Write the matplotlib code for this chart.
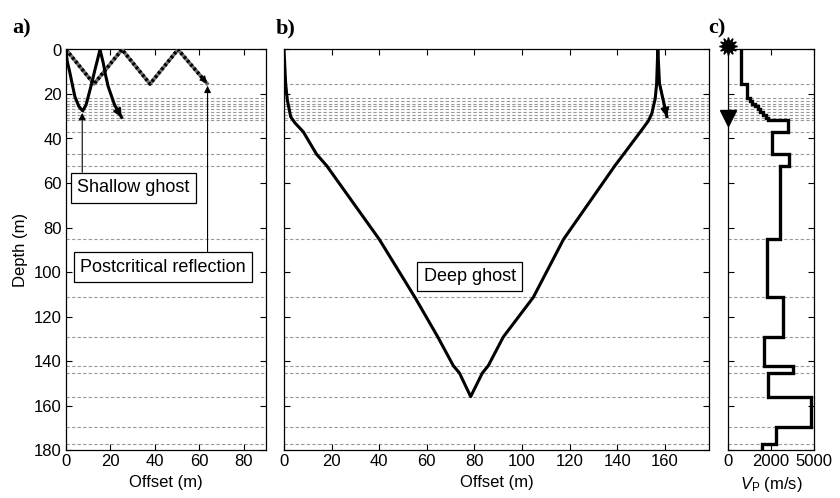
import numpy as np
import matplotlib.pyplot as plt

plt.rcParams['font.family'] = ['Liberation Sans', 'DejaVu Sans']
plt.rcParams['mathtext.fontset'] = 'custom'
plt.rcParams['mathtext.rm'] = 'Liberation Sans'
plt.rcParams['mathtext.it'] = 'Liberation Sans:italic'

# layer boundaries (m)
interfaces = [15.5, 22.0, 23.1, 24.4, 25.5, 26.7, 28.0, 29.3, 30.7, 31.8, 37.1,
              47.1, 52.2, 85.3, 111.3, 129.3, 142.4, 145.3, 156.0, 169.6, 177.5]

# Vp per layer (m/s), layer edges = 0, interfaces, 180
vp = [740, 1090, 1250, 1400, 1560, 1720, 1870, 2030, 2190, 2340, 3500,
      2580, 3550, 3020, 2290, 3180, 2110, 3800, 2300, 4810, 2790, 1990]
vp_ticks = [0, 2500, 5000]
vp_ticklabels = ['0', '2000', '5000']

# a) shallow ghost ray (offset, depth)
ghost_x = [0, 0.5, 1.8, 2.9, 4.0, 5.8, 7.5, 9.0, 10.0, 11.5, 13.0, 14.2, 15.3,
           16.8, 17.8, 19.0, 20.5, 21.9, 25.0]
ghost_z = [0, 5.0, 10.7, 16.0, 21.2, 25.6, 27.6, 25.0, 21.2, 15.5, 9.2, 4.5, 0,
           6.2, 11.5, 16.7, 21.0, 25.0, 30.5]

# a) postcritical reflection (zigzag)
post_x = [0, 12.6, 25.2, 37.8, 50.4, 63.5]
post_z = [0, 15.5, 0, 15.5, 0, 15.3]

# b) deep ghost ray
deep_x = [0, 0.7, 1.4, 2.8, 4.6, 8.1, 13.7, 17.9, 40.0, 55.0, 64.6, 71.1, 73.7, 78.4,
          83.3, 85.8, 92.1, 104.7, 117.4, 139.0, 142.6, 149.6, 153.1, 154.5, 155.9,
          156.5, 157.0, 157.7, 160.8]
deep_z = [0, 15.5, 22.7, 30.2, 33.0, 37.0, 47.1, 52.2, 85.3, 111.4, 129.2, 142.1, 145.4, 156.0,
          145.4, 142.1, 129.2, 111.4, 85.3, 52.2, 47.1, 37.1, 32.0, 28.7, 22.1,
          15.5, 0, 15.2, 30.2]

fig = plt.figure(figsize=(8.4, 4.98), dpi=100)
ax1 = fig.add_axes([66/840, 1-450/498, 200/840, 400.5/498])
ax2 = fig.add_axes([284/840, 1-450/498, 425/840, 400.5/498])
ax3 = fig.add_axes([728/840, 1-450/498, 86/840, 400.5/498])

for ax in (ax1, ax2, ax3):
    ax.set_ylim(180, 0)
    ax.set_yticks(np.arange(0, 181, 20))
    ax.tick_params(direction='in', top=True, right=True, length=4, width=0.8,
                   labelsize=12, pad=3)
    for s in ax.spines.values():
        s.set_linewidth(0.9)
    for z in interfaces:
        ax.axhline(z, color='#999999', lw=0.8, dashes=(3, 2), zorder=1)

# a)
ax1.set_xlim(0, 90)
ax1.set_xticks(np.arange(0, 81, 20))
ax1.set_xlabel('Offset (m)', fontsize=12)
ax1.set_ylabel('Depth (m)', fontsize=12)
ax1.plot(post_x, post_z, color='#707070', lw=2.6, zorder=3)
ax1.plot(post_x, post_z, color='k', lw=2.6, ls=(0, (0.7, 0.7)), zorder=3)
ax1.annotate('', xy=(post_x[-1], post_z[-1]), xytext=(post_x[-2], post_z[-2]),
             arrowprops=dict(arrowstyle='-|>', color='k', lw=0, mutation_scale=14,
                             shrinkA=0, shrinkB=0), zorder=3)
ax1.plot(ghost_x, ghost_z, color='k', lw=2.2, zorder=4)
ax1.annotate('', xy=(ghost_x[-1], ghost_z[-1]), xytext=(ghost_x[-2], ghost_z[-2]),
             arrowprops=dict(arrowstyle='-|>', color='k', lw=1.5, mutation_scale=12,
                             shrinkA=0, shrinkB=0), zorder=4)

box = dict(boxstyle='square,pad=0.35', fc='white', ec='k', lw=0.9)
ax1.annotate('', xy=(7.3, 28.5), xytext=(7.3, 55.2),
             arrowprops=dict(arrowstyle='-|>', color='k', lw=0.8, mutation_scale=10,
                             shrinkA=0, shrinkB=0))
ax1.text(30.3, 62.2, 'Shallow ghost', fontsize=13, ha='center', va='center', bbox=box, zorder=5)
ax1.annotate('', xy=(63.7, 16.3), xytext=(63.7, 91.0),
             arrowprops=dict(arrowstyle='-|>', color='k', lw=0.8, mutation_scale=10,
                             shrinkA=0, shrinkB=0))
ax1.text(43.6, 97.8, 'Postcritical reflection', fontsize=13, ha='center', va='center',
         bbox=box, zorder=5)

# b)
ax2.set_xlim(0, 178.5)
ax2.set_xticks(np.arange(0, 161, 20))
ax2.set_yticklabels([])
ax2.set_xlabel('Offset (m)', fontsize=12)
ax2.plot(deep_x, deep_z, color='k', lw=2.2, zorder=4)
ax2.annotate('', xy=(deep_x[-1], deep_z[-1]), xytext=(deep_x[-2], deep_z[-2]),
             arrowprops=dict(arrowstyle='-|>', color='k', lw=1.5, mutation_scale=12,
                             shrinkA=0, shrinkB=0), zorder=4)
ax2.text(78, 102, 'Deep ghost', fontsize=13, ha='center', va='center', bbox=box, zorder=5)

# c)
edges = [0] + interfaces + [180]
ax3.stairs(vp, edges, orientation='horizontal', baseline=None, color='k', lw=2.4, zorder=4)
ax3.set_xlim(0, 5000)
ax3.set_xticks(vp_ticks)
ax3.set_xticklabels(vp_ticklabels)
ax3.set_yticklabels([])
ax3.set_xlabel(r'$V_{\mathrm{P}}$ (m/s)', fontsize=12)
ax3.plot([0], [-1.5], marker=(12, 1, 0), ms=13, color='k', clip_on=False, zorder=6)
ax3.plot([0], [30.8], marker='v', ms=11, color='k', clip_on=False, zorder=6)

for lbl, x in (('a)', 12), ('b)', 276), ('c)', 708)):
    fig.text(x/840, 1-33/498, lbl, fontsize=16, fontweight='bold',
             family='Liberation Serif', va='baseline')

fig.savefig('out.png', dpi=100)
